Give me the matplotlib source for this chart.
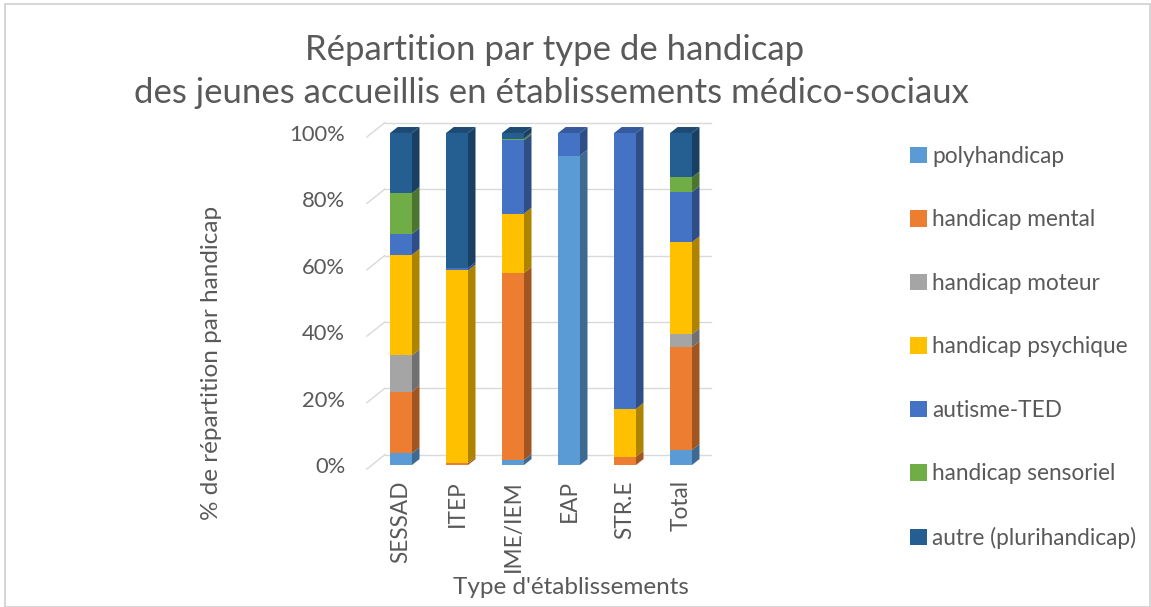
import matplotlib
matplotlib.use("Agg")
import matplotlib.pyplot as plt
from matplotlib.patches import Polygon, Patch, Rectangle
from matplotlib.colors import to_rgb

plt.rcParams['font.family'] = ['Lato', 'DejaVu Sans']

categories = ['SESSAD', 'ITEP', 'IME/IEM', 'EAP', 'STR.E', 'Total']
series_names = ['polyhandicap', 'handicap mental', 'handicap moteur',
                'handicap psychique', 'autisme-TED', 'handicap sensoriel',
                'autre (plurihandicap)']
polyhandicap = [3.5, 0.0, 1.5, 93.2, 0.0, 4.5]
mental = [18.6, 0.5, 56.3, 0.0, 2.5, 31.0]
moteur = [10.9, 0.0, 0.0, 0.0, 0.0, 3.9]
psychique = [30.3, 58.1, 17.9, 0.0, 14.4, 27.7]
autisme = [6.3, 0.7, 22.1, 6.8, 83.1, 15.1]
sensoriel = [12.3, 0.0, 0.5, 0.0, 0.0, 4.4]
autre = [18.1, 40.7, 1.7, 0.0, 0.0, 13.4]
series = [polyhandicap, mental, moteur, psychique, autisme, sensoriel, autre]
colors = ['#5B9BD5', '#ED7D31', '#A5A5A5', '#FFC000', '#4472C4', '#70AD47', '#255E91']

txt = '#595959'
grid = '#d9d9d9'


def shade(c, f):
    r, g, b = to_rgb(c)
    return (r * f, g * f, b * f)


fig = plt.figure(figsize=(11.51, 6.07), dpi=100)
fig.patches.append(Rectangle((0.004, 0.0), 0.995, 0.994, transform=fig.transFigure,
                             fill=False, edgecolor='#d0d0d0', lw=1.2))
ax = fig.add_axes([0.3241, 0.2339, 0.2919, 0.547])
ax.set_xlim(-0.5, len(categories) - 0.5)
ax.set_ylim(0, 100)

# pseudo 3D floor / back wall gridlines
for v in range(0, 101, 20):
    ax.plot([-0.61, -0.29], [v - 1.2, v + 3.1], color=grid, lw=1, clip_on=False, zorder=0)
    ax.plot([-0.29, 5.53], [v + 3.1, v + 3.1], color=grid, lw=1, clip_on=False, zorder=0)

w = 0.39
dx = 0.135
dy = 1.8
for i, cat in enumerate(categories):
    bottom = 0
    top_color = None
    for vals, c in zip(series, colors):
        v = vals[i]
        if v <= 0:
            continue
        ax.bar(i, v, width=w, bottom=bottom, color=c, zorder=3, clip_on=False)
        xr = i + w / 2
        side = Polygon([(xr, bottom), (xr + dx, bottom + dy), (xr + dx, bottom + v + dy), (xr, bottom + v)],
                       closed=True, facecolor=shade(c, 0.68), edgecolor='none', zorder=2, clip_on=False)
        ax.add_patch(side)
        bottom += v
        top_color = c
    xl = i - w / 2
    topf = Polygon([(xl, bottom), (xl + dx, bottom + dy), (xr + dx, bottom + dy), (xr, bottom)],
                   closed=True, facecolor=shade(top_color, 0.8), edgecolor='none', zorder=2, clip_on=False)
    ax.add_patch(topf)

for s in ax.spines.values():
    s.set_visible(False)
ax.set_xticks(range(len(categories)))
ax.set_xticklabels(categories, rotation=90, fontsize=16.3, color=txt)
ax.set_yticks(range(0, 101, 20))
ax.set_yticklabels([f'{v}%' for v in range(0, 101, 20)], fontsize=15.8, color=txt)
ax.tick_params(axis='y', length=0, pad=20)
ax.tick_params(axis='x', length=0, pad=11)
ax.set_xlabel("Type d'établissements", fontsize=17.5, color=txt)
ax.set_ylabel('% de répartition par handicap', fontsize=17.5, color=txt)
ax.xaxis.set_label_coords(0.589, -0.338)
ax.yaxis.set_label_coords(-0.449, 0.307)

fig.text(0.482, 0.918, 'Répartition par type de handicap', ha='center', va='center',
         fontsize=25, color=txt)
fig.text(0.479, 0.847, 'des jeunes accueillis en établissements médico-sociaux', ha='center',
         va='center', fontsize=25, color=txt)

handles = [Patch(facecolor=c, edgecolor='none') for c in colors]
leg = fig.legend(handles, series_names, loc='upper left', bbox_to_anchor=(0.773, 0.793),
                 frameon=False, fontsize=16.3, handlelength=0.75, handleheight=0.75,
                 handletextpad=0.22, labelspacing=1.875, labelcolor=txt)

fig.savefig('out.png', dpi=100)
